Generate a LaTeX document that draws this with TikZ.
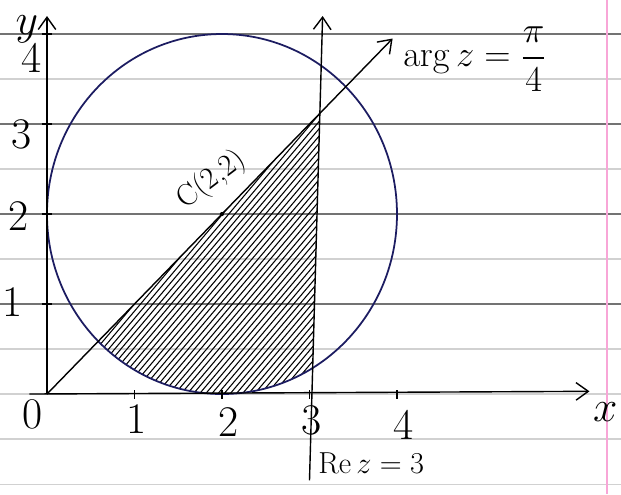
\documentclass[tikz,border=0pt]{standalone}
\usepackage{amsmath,amssymb}
\usepackage{xcolor}
\usepackage{tikz}
\usetikzlibrary{arrows.meta}
\definecolor{inkblue}{rgb}{0.11,0.11,0.38}

\begin{document}
\begin{tikzpicture}[x=1.75cm,y=1.8cm,
  arr/.style={-{Straight Barb[length=7pt,width=10pt]},thick},
  ruled/.style={black!18,line width=0.6pt},
  lbl/.style={font=\huge,scale=1.2}]
  \useasboundingbox (-0.537,-1.111) rectangle (6.56,4.378);
  %% notebook ruling
  \foreach \h in {-1,-0.5,...,4.2}
    \draw[ruled] (-0.537,\h) -- (6.56,\h);
  \foreach \h in {1,2,3,4}
    \draw[black!55,line width=0.6pt] (-0.537,\h) -- (6.56,\h);
  \draw[magenta!35,line width=0.8pt] (6.4,-1.111) -- (6.4,4.378);
  %% points
  \coordinate (O) at (0,0);
  \coordinate (C) at (2,2);
  \coordinate (xs) at (-0.2,0);
  \coordinate (xe) at (6.2,0.03);
  \coordinate (ye) at (0,4.2);
  \coordinate (ae) at (3.95,3.95);
  \coordinate (rb) at (3,-0.96);
  \coordinate (rt) at (3.15,4.2);
  %% shaded region
  \begin{scope}
    \clip (0.586,0.586) -- (3.1186,3.1186) -- (3.036,0.289)
      arc[start angle=-58.8,end angle=-135,radius=2] -- cycle;
    \foreach \k in {-2.6,-2.53,...,3.3}
      \draw[line width=0.6pt] (\k,0) -- ++(3.5,4.03);
  \end{scope}
  % circle |z-(2+2i)|=2
  \draw[inkblue,line width=1pt] (C) circle[radius=2];
  \fill (C) circle (1.2pt);
  % axes
  \draw[arr] (xs) -- (xe);
  \draw[arr] (O) -- (ye);
  \foreach \t in {1,...,4} {
    \draw[thick] (-0.06,\t) -- (0.06,\t);
    \draw[thick] (\t,-0.05) -- (\t,0.05);
  }
  % half line and Re z = 3
  \draw[arr] (O) -- (ae);
  \draw[arr] (rb) -- (rt);
  % labels
  \node[lbl] (ylab) at (-0.23,4.05) {$y$};
  \node[lbl] (xlab) at (6.38,-0.2) {$x$};
  \node[lbl] (o) at (-0.16,-0.23) {0};
  \node[lbl] (y1) at (-0.39,1.02) {1};
  \node[lbl] (y2) at (-0.33,1.98) {2};
  \node[lbl] (y3) at (-0.29,2.89) {3};
  \node[lbl] (y4) at (-0.18,3.73) {4};
  \node[lbl] (x1) at (1.02,-0.28) {1};
  \node[lbl] (x2) at (2.07,-0.31) {2};
  \node[lbl] (x3) at (3.02,-0.29) {3};
  \node[lbl] (x4) at (4.07,-0.34) {4};
  \node[font=\LARGE,rotate=37] (clab) at (1.88,2.38) {C(2,2)};
  \node[font=\huge,anchor=west] (arglab) at (4.0,3.72) {$\arg z=\dfrac{\pi}{4}$};
  \node[font=\LARGE,anchor=west] (relab) at (3.03,-0.77) {$\mathrm{Re}\,z=3$};
\end{tikzpicture}
\end{document}
